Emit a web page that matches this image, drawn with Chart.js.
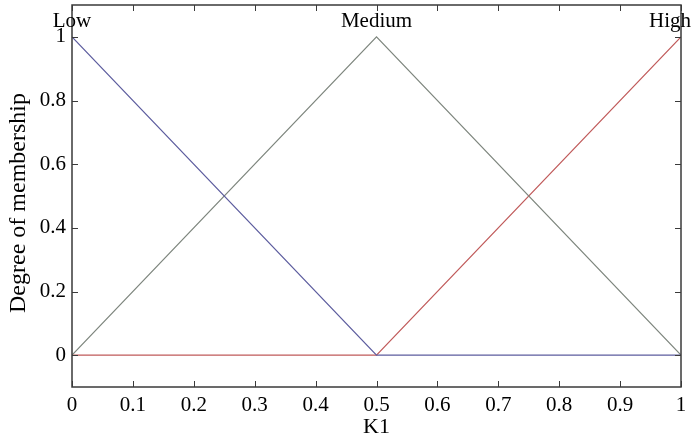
<!DOCTYPE html>
<html>
<head>
<meta charset="utf-8">
<script src="https://cdn.jsdelivr.net/npm/chart.js@4/dist/chart.umd.min.js"></script>
<style>
  html, body { margin: 0; padding: 0; background: #fff; }
  #wrap { width: 691px; height: 440px; position: relative; }
</style>
</head>
<body>
<div id="wrap"><canvas id="chart"></canvas></div>
<script>
// membership functions for K1
const xPoints = [0, 0.5, 1];
const lowValues = [1, 0, 0];
const mediumValues = [0, 1, 0];
const highValues = [0, 0, 1];
const mfNames = ["Low", "Medium", "High"];
const mfPeaks = [0, 0.5, 1];
const xTicks = [0, 0.1, 0.2, 0.3, 0.4, 0.5, 0.6, 0.7, 0.8, 0.9, 1];
const yTicks = [0, 0.2, 0.4, 0.6, 0.8, 1];

const FONT = "'Liberation Serif', 'Times New Roman', serif";
const AXIS_COLOR = "#3a3a3a";

function pts(ys) {
  return xPoints.map((x, i) => ({ x: x, y: ys[i] }));
}

const frame = {
  id: "frame",
  afterDraw(chart) {
    const ctx = chart.ctx;
    const a = chart.chartArea;
    const xs = chart.scales.x, ys = chart.scales.y;
    ctx.save();
    ctx.strokeStyle = AXIS_COLOR;
    ctx.lineWidth = 1.5;
    ctx.strokeRect(a.left, a.top, a.right - a.left, a.bottom - a.top);
    ctx.lineWidth = 1;
    ctx.beginPath();
    xTicks.forEach(v => {
      const px = Math.round(xs.getPixelForValue(v)) + 0.5;
      ctx.moveTo(px, a.bottom); ctx.lineTo(px, a.bottom - 6);
      ctx.moveTo(px, a.top); ctx.lineTo(px, a.top + 6);
    });
    yTicks.forEach(v => {
      const py = Math.round(ys.getPixelForValue(v)) + 0.5;
      ctx.moveTo(a.left, py); ctx.lineTo(a.left + 6, py);
      ctx.moveTo(a.right, py); ctx.lineTo(a.right - 6, py);
    });
    ctx.stroke();

    // mf labels
    ctx.fillStyle = "#000";
    ctx.font = "21px " + FONT;
    ctx.textBaseline = "alphabetic";
    const yTop = ys.getPixelForValue(1) - 10;
    mfNames.forEach((name, i) => {
      const px = xs.getPixelForValue(mfPeaks[i]);
      if (i === mfNames.length - 1) { ctx.textAlign = "left"; ctx.fillText(name, px - 32, yTop); }
      else { ctx.textAlign = "center"; ctx.fillText(name, px, yTop); }
    });

    // axis titles
    ctx.textAlign = "center";
    ctx.font = "22px " + FONT;
    ctx.fillText("K1", (a.left + a.right) / 2, 433);
    ctx.font = "24px " + FONT;
    ctx.translate(25, 203);
    ctx.rotate(-Math.PI / 2);
    ctx.fillText("Degree of membership", 0, 0);
    ctx.restore();
  }
};

new Chart(document.getElementById("chart"), {
  type: "line",
  data: {
    datasets: [
      { label: "Low", data: pts(lowValues), borderColor: "#5c5c9e", borderWidth: 1.2 },
      { label: "Medium", data: pts(mediumValues), borderColor: "#7d857d", borderWidth: 1.2 },
      { label: "High", data: pts(highValues), borderColor: "#c05a5a", borderWidth: 1.2 }
    ]
  },
  options: {
    responsive: true,
    maintainAspectRatio: false,
    animation: false,
    layout: { padding: { top: 5, right: 10, left: 0, bottom: 0 } },
    elements: { point: { radius: 0 }, line: { tension: 0 } },
    plugins: { legend: { display: false }, tooltip: { enabled: false } },
    scales: {
      x: {
        type: "linear",
        min: 0,
        max: 1,
        grid: { display: false, drawTicks: false },
        border: { display: false },
        afterBuildTicks: s => { s.ticks = xTicks.map(v => ({ value: v })); },
        afterFit: s => { s.height = 53; s.paddingLeft = 0; s.paddingRight = 0; },
        ticks: {
          padding: 6,
          color: "#000",
          font: { family: FONT, size: 21 },
          maxRotation: 0,
          autoSkip: false,
          callback: v => String(v)
        }
      },
      y: {
        min: -0.1,
        max: 1.1,
        grid: { display: false, drawTicks: false },
        border: { display: false },
        afterBuildTicks: s => { s.ticks = yTicks.map(v => ({ value: v })); },
        afterFit: s => { s.width = 72; s.paddingTop = 0; s.paddingBottom = 0; },
        ticks: {
          padding: 6,
          color: "#000",
          font: { family: FONT, size: 21 },
          callback: v => String(v)
        }
      }
    }
  },
  plugins: [frame]
});
</script>
</body>
</html>
